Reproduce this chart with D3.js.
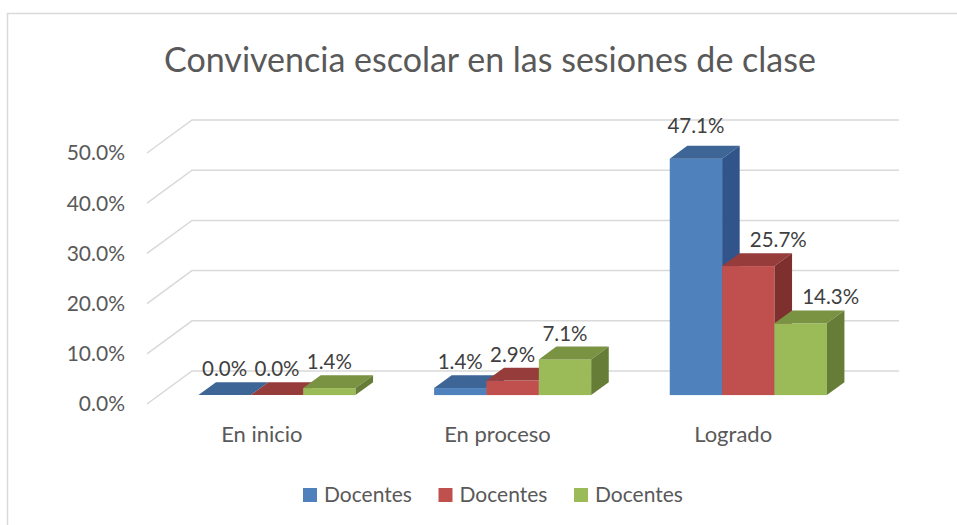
<!DOCTYPE html>
<html>
<head>
<meta charset="utf-8">
<script src="https://cdn.jsdelivr.net/npm/d3@7/dist/d3.min.js"></script>
<style>
  body { margin: 0; background: #fff; }
  text { font-family: Lato, "Open Sans", sans-serif; }
</style>
</head>
<body>
<svg id="chart" width="957" height="525"></svg>
<script>
// data
var categories = ["En inicio", "En proceso", "Logrado"];
var seriesNames = ["Docentes", "Docentes", "Docentes"];
var serie1 = [0.000, 0.014, 0.471];
var serie2 = [0.000, 0.029, 0.257];
var serie3 = [0.014, 0.071, 0.143];
var yTicks = [0, 0.1, 0.2, 0.3, 0.4, 0.5];

var series = [serie1, serie2, serie3];
var colors = [
    {front: "#4f81bd", top: "#3d6596", side: "#31548a"},
    {front: "#c0504d", top: "#963c3a", side: "#7e302e"},
    {front: "#9bbb59", top: "#7a9343", side: "#667d37"}
];

var svg = d3.select("#chart");

// oblique depth of the floor / walls
var DEPTH_X = 45, DEPTH_Y = 33;
// bars sit between z0 and z1 (0 = front, 1 = back wall)
var z0 = 0.27, z1 = 0.66;

var y = d3.scaleLinear().domain([0, 0.5]).range([404, 153]);
var x = d3.scaleBand().domain(categories).range([147, 854]);
var bw = x.bandwidth() / (3 + 1.5);   // gap width 150%
var inner = d3.scaleBand().domain(d3.range(3)).range([0, bw * 3]);

// chart border
svg.append("rect")
    .attr("x", 7.5).attr("y", 13.5)
    .attr("width", 1000).attr("height", 600)
    .attr("fill", "none").attr("stroke", "#d9d9d9").attr("stroke-width", 1.5);

// title
svg.append("text")
    .attr("x", 490).attr("y", 72)
    .attr("text-anchor", "middle")
    .attr("font-size", 34)
    .attr("fill", "#595959")
    .text("Convivencia escolar en las sesiones de clase");

// gridlines: side wall + back wall
var grid = svg.append("g").attr("stroke", "#d9d9d9").attr("stroke-width", 1.5).attr("fill", "none");
yTicks.forEach(function(t){
    var yy = y(t);
    grid.append("path")
        .attr("d", "M" + x.range()[0] + "," + yy +
                   " L" + (x.range()[0] + DEPTH_X) + "," + (yy - DEPTH_Y) +
                   " L" + (x.range()[1] + DEPTH_X) + "," + (yy - DEPTH_Y));
});

// y axis labels
svg.append("g").selectAll("text").data(yTicks).enter().append("text")
    .attr("x", 125)
    .attr("y", function(d){ return y(d); })
    .attr("dy", "0.35em")
    .attr("text-anchor", "end")
    .attr("font-size", 21)
    .attr("fill", "#595959")
    .text(function(d){ return d3.format(".1%")(d); });

// category labels
svg.append("g").selectAll("text").data(categories).enter().append("text")
    .attr("x", function(d){ return x(d) + x.bandwidth() / 2 - 3; })
    .attr("y", 442)
    .attr("text-anchor", "middle")
    .attr("font-size", 22)
    .attr("fill", "#595959")
    .text(function(d){ return d; });

// bars, drawn left to right so each front hides the previous side face
var fx = z0 * DEPTH_X, fy = z0 * DEPTH_Y;
var ddx = (z1 - z0) * DEPTH_X, ddy = (z1 - z0) * DEPTH_Y;
var bars = svg.append("g");
var labels = [];

categories.forEach(function(c, ci){
    series.forEach(function(s, si){
        var v = s[ci];
        var x0 = x(c) + bw * 0.75 + inner(si) + fx;
        var x1 = x0 + inner.bandwidth();
        var yt = y(v) - fy, yb = y(0) - fy;
        var g = bars.append("g");
        var col = colors[si];

        g.append("rect")
            .attr("x", x0).attr("y", yt)
            .attr("width", x1 - x0).attr("height", yb - yt)
            .attr("fill", col.front);

        g.append("path")
            .attr("d", "M" + x0 + "," + yt + " L" + x1 + "," + yt +
                       " L" + (x1 + ddx) + "," + (yt - ddy) +
                       " L" + (x0 + ddx) + "," + (yt - ddy) + " Z")
            .attr("fill", col.top);

        g.append("path")
            .attr("d", "M" + x1 + "," + yt + " L" + (x1 + ddx) + "," + (yt - ddy) +
                       " L" + (x1 + ddx) + "," + (yb - ddy) +
                       " L" + x1 + "," + yb + " Z")
            .attr("fill", col.side);

        // label, pushed right when the bar on its left is taller
        var prev = si > 0 ? series[si - 1][ci] : -1;
        var lx = (x0 + x1) / 2;
        var ly = yt - ddy - 6;
        if (prev > v + 0.03) lx += 30;
        if (si === 0 && v > 0.3) ly -= 7;
        labels.push({x: lx, y: ly, v: v});
    });
});

svg.append("g").selectAll("text").data(labels).enter().append("text")
    .attr("x", function(d){ return d.x; })
    .attr("y", function(d){ return d.y; })
    .attr("text-anchor", "middle")
    .attr("font-size", 20.5)
    .attr("fill", "#404040")
    .text(function(d){ return d3.format(".1%")(d.v); });

// legend
var legend = svg.append("g").selectAll("g").data(seriesNames).enter().append("g")
    .attr("transform", function(d, i){ return "translate(" + (303 + i * 135.5) + ",488)"; });
legend.append("rect")
    .attr("width", 14).attr("height", 14)
    .attr("fill", function(d, i){ return colors[i].front; });
legend.append("text")
    .attr("x", 21).attr("y", 7).attr("dy", "0.35em")
    .attr("font-size", 21)
    .attr("fill", "#595959")
    .text(function(d){ return d; });
</script>
</body>
</html>
